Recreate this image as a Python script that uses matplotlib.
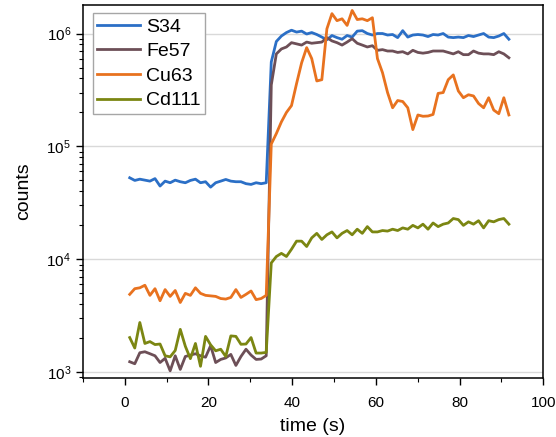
import numpy as np
import matplotlib.pyplot as plt
from matplotlib.ticker import LogLocator, MultipleLocator, NullFormatter

plt.rcParams['font.family'] = ['Liberation Sans', 'DejaVu Sans']
plt.rcParams['mathtext.default'] = 'regular'

# acquisition time, one sweep every ~1.2 s
time = np.linspace(1.2, 91.8, 76)

s34 = [52800, 50000, 51300, 50300, 49300, 51900, 44600, 49300, 47700, 50300,
       48700, 47700, 50000, 51300, 47700, 48700, 43600, 47700, 49300, 51000,
       49300, 48700, 48700, 46800, 46100, 47700, 46800, 47700,
       5.6e5, 8.5e5, 9.5e5, 1.02e6, 1.07e6, 1.03e6, 1.05e6, 0.99e6, 1.02e6, 0.98e6,
       0.93e6, 0.88e6, 0.96e6, 0.92e6, 0.89e6, 0.96e6, 0.93e6, 1.05e6, 1.06e6, 1.0e6,
       0.97e6, 1.0e6, 1.0e6, 0.97e6, 0.98e6, 0.92e6, 1.06e6, 0.93e6, 0.97e6, 0.98e6,
       0.97e6, 0.94e6, 0.98e6, 0.97e6, 1.0e6, 0.93e6, 0.92e6, 0.93e6, 0.92e6, 0.96e6,
       0.94e6, 0.97e6, 1.0e6, 0.93e6, 0.92e6, 0.95e6, 1.0e6, 0.89e6]

fe57 = [1240, 1190, 1490, 1520, 1460, 1400, 1220, 1330, 1030, 1400,
        1060, 1380, 1420, 1460, 1400, 1360, 1720, 1220, 1300, 1340,
        1440, 1150, 1380, 1600, 1420, 1300, 1310, 1400,
        3.5e5, 6.6e5, 7.3e5, 7.6e5, 8.3e5, 8.1e5, 7.9e5, 8.4e5, 8.2e5, 8.3e5,
        8.4e5, 9.2e5, 8.6e5, 8.3e5, 7.9e5, 8.4e5, 9.0e5, 8.2e5, 7.9e5, 7.6e5,
        7.8e5, 7.1e5, 7.2e5, 7.0e5, 7.0e5, 6.8e5, 6.9e5, 6.6e5, 7.1e5, 6.8e5,
        6.7e5, 6.8e5, 7.0e5, 7.0e5, 7.0e5, 6.8e5, 6.6e5, 6.9e5, 6.5e5, 6.5e5,
        7.0e5, 6.7e5, 6.6e5, 6.6e5, 6.5e5, 6.9e5, 6.6e5, 6.1e5]

cu63 = [4900, 5500, 5600, 5900, 4800, 5500, 4300, 5400, 4700, 5300,
        4150, 5000, 4800, 5600, 5000, 4800, 4750, 4700, 4500, 4450,
        4600, 5400, 4600, 4900, 5250, 4400, 4500, 4800,
        1.05e5, 1.3e5, 1.65e5, 2.0e5, 2.3e5, 3.6e5, 5.5e5, 7.5e5, 6.0e5, 3.8e5,
        3.9e5, 1.1e6, 1.5e6, 1.3e6, 1.35e6, 1.18e6, 1.6e6, 1.33e6, 1.35e6, 1.3e6,
        1.38e6, 6.0e5, 4.5e5, 3.0e5, 2.2e5, 2.55e5, 2.5e5, 2.2e5, 1.41e5, 1.9e5,
        1.85e5, 1.86e5, 1.92e5, 2.95e5, 3.0e5, 3.9e5, 4.3e5, 3.1e5, 2.7e5, 2.87e5,
        2.8e5, 2.4e5, 2.2e5, 2.7e5, 2.1e5, 1.95e5, 2.7e5, 1.9e5]

cd111 = [2030, 1640, 2760, 1800, 1870, 1760, 1780, 1400, 1370, 1560,
         2400, 1700, 1320, 1800, 1130, 2080, 1750, 1550, 1600, 1380,
         2100, 2080, 1770, 1780, 2030, 1480, 1480, 1500,
         9300, 10600, 11300, 10600, 12300, 14500, 14500, 13000, 15500, 17000,
         15000, 16500, 17500, 15500, 17000, 18000, 16500, 18500, 17000, 19500,
         17500, 17500, 18000, 17800, 18500, 18000, 19000, 18500, 20000, 19000,
         20500, 18500, 21000, 19500, 20500, 21000, 23000, 22500, 20000, 21500,
         20500, 22000, 19000, 22000, 21500, 22500, 23000, 20500]

names = ['S34', 'Fe57', 'Cu63', 'Cd111']
colors = ['#2b6fc6', '#6d4f57', '#e8721f', '#7b8612']

fig = plt.figure(figsize=(5.56, 4.37), dpi=100)
ax = fig.add_axes([0.149, 0.135, 0.828, 0.853])

for y, name, c in zip([s34, fe57, cu63, cd111], names, colors):
    ax.plot(time, y, color=c, lw=2.0, label=name)

ax.set_yscale('log')
ax.set_xlim(-10, 100)
ax.set_ylim(890, 1.78e6)

ax.xaxis.set_major_locator(MultipleLocator(20))
ax.xaxis.set_minor_locator(MultipleLocator(10))
ax.yaxis.set_major_locator(LogLocator(base=10))
ax.yaxis.set_minor_locator(LogLocator(base=10, subs=np.arange(2, 10)))
ax.yaxis.set_minor_formatter(NullFormatter())

ax.tick_params(which='both', direction='out', labelsize=11, color='black')
ax.tick_params(which='major', length=5, width=1)
ax.tick_params(which='minor', length=3, width=0.8)
ax.tick_params(axis='x', which='major', pad=8)
ax.grid(axis='y', which='major', color='#d9d9d9', lw=1)
ax.set_axisbelow(True)
for sp in ax.spines.values():
    sp.set_linewidth(1.1)

ax.set_xlabel('time (s)', fontsize=14, labelpad=6)
ax.set_ylabel('counts', fontsize=14, labelpad=10)

ax.legend(loc='upper left', bbox_to_anchor=(0.021, 0.979), borderaxespad=0,
          fontsize=14, frameon=True, fancybox=False, framealpha=1,
          edgecolor='#a6a6a6', handlelength=2.2, handletextpad=0.3,
          labelspacing=0.36, borderpad=0.25)

fig.savefig('out.png', dpi=100)
